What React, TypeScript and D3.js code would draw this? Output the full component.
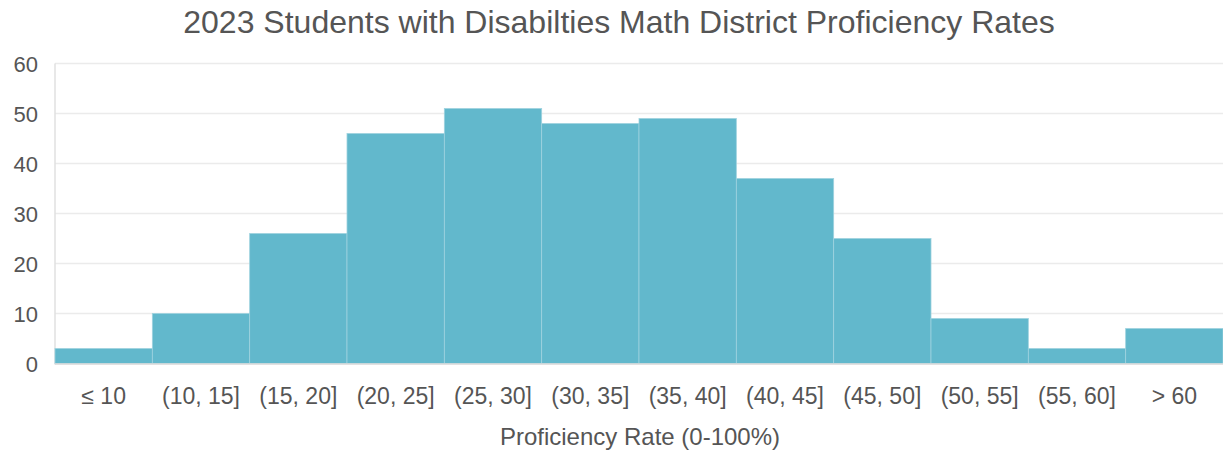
import React from "react";
import * as d3 from "d3";

const categories = ["≤ 10", "(10, 15]", "(15, 20]", "(20, 25]", "(25, 30]", "(30, 35]", "(35, 40]", "(40, 45]", "(45, 50]", "(50, 55]", "(55, 60]", "> 60"];
const counts = [3, 10, 26, 46, 51, 48, 49, 37, 25, 9, 3, 7];
const yTicks = [0, 10, 20, 30, 40, 50, 60];
const title = "2023 Students with Disabilties Math District Proficiency Rates";
const xTitle = "Proficiency Rate (0-100%)";

const W = 1223, H = 458;
const m = { left: 55, right: 0, top: 63.5, bottom: 94.5 };

export default function App() {
  const x = d3.scaleBand().domain(categories).range([m.left, W - m.right]).padding(0);
  const y = d3.scaleLinear().domain([0, 60]).range([H - m.bottom, m.top]);
  const font = "'Liberation Sans', Arial, sans-serif";
  return (
    <svg width={W} height={H} style={{ position: "absolute", left: 0, top: 0 }} fontFamily={font}>
      <rect width={W} height={H} fill="#fff" />
      {yTicks.map((t) => (
        <g key={t}>
          <line x1={m.left} x2={W} y1={y(t)} y2={y(t)} stroke="#ebebeb" strokeWidth={1.5} />
          <text x={38} y={y(t) + 8} textAnchor="end" fontSize={22} fill="#555">{t}</text>
        </g>
      ))}
      <line x1={m.left} x2={m.left} y1={y(60)} y2={y(0) + 1} stroke="#e0e0e0" strokeWidth={1.5} />
      {categories.map((c, i) => (
        <rect key={c} x={x(c)!} width={x.bandwidth()} y={y(counts[i])} height={y(0) - y(counts[i])}
          fill="#62b8cc" stroke="#9fd3df" strokeWidth={0.8} />
      ))}
      <line x1={m.left} x2={W} y1={y(0) + 0.5} y2={y(0) + 0.5} stroke="#d9d9d9" strokeWidth={1.5} />
      {categories.map((c) => (
        <text key={c} x={x(c)! + x.bandwidth() / 2} y={404} textAnchor="middle" fontSize={23} fill="#555">{c}</text>
      ))}
      <text x={640} y={445} textAnchor="middle" fontSize={24} fill="#555">{xTitle}</text>
      <text x={619} y={33} textAnchor="middle" fontSize={32} fill="#555">{title}</text>
    </svg>
  );
}
